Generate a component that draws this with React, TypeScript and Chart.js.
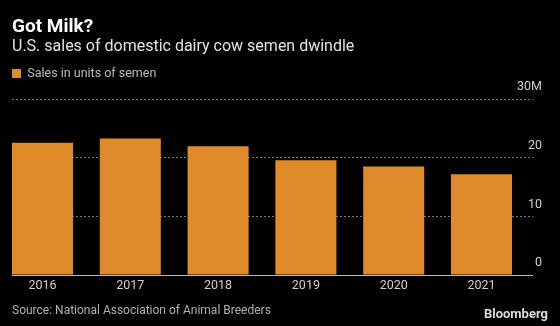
import React, { useEffect, useRef } from "react";
import { Chart, registerables } from "chart.js";

Chart.register(...registerables);

const years = [2016, 2017, 2018, 2019, 2020, 2021];
const sales = [22.6, 23.3, 22.0, 19.6, 18.55, 17.2];
const yTicks = [0, 10, 20, 30];
const seriesLabel = "Sales in units of semen";
const titleText = "Got Milk?";
const subtitleText = "U.S. sales of domestic dairy cow semen dwindle";
const sourceText = "Source: National Association of Animal Breeders";
const brandText = "Bloomberg";

const ORANGE = "#e08b2a";
const FONT = "Roboto, 'Liberation Sans', sans-serif";

export default function App() {
  const ref = useRef<HTMLCanvasElement>(null);

  useEffect(() => {
    const chart = new Chart(ref.current!, {
      type: "bar",
      data: {
        datasets: [
          {
            label: seriesLabel,
            data: years.map((x, i) => ({ x, y: sales[i] })),
            backgroundColor: ORANGE,
            borderWidth: 0,
            categoryPercentage: 1,
            barPercentage: 0.695,
          },
        ],
      },
      options: {
        responsive: false,
        maintainAspectRatio: false,
        animation: false,
        layout: { padding: { top: 18, left: 12, right: 18, bottom: 30 } },
        plugins: {
          title: {
            display: true,
            text: titleText,
            align: "start",
            color: "#ffffff",
            font: { family: FONT, size: 19, weight: "bold", lineHeight: 1 },
            padding: { top: 0, bottom: 0 },
          },
          subtitle: {
            display: true,
            text: subtitleText,
            align: "start",
            color: "#e4e4e4",
            font: { family: FONT, size: 16, lineHeight: 1.2 },
            padding: { top: 0, bottom: 11 },
          },
          legend: {
            display: true,
            position: "top",
            align: "start",
            labels: {
              boxWidth: 9,
              boxHeight: 9,
              padding: 0,
              color: "#bdbdbd",
              font: { family: FONT, size: 12.5 },
            },
          },
          tooltip: { enabled: false },
        },
        scales: {
          x: {
            type: "linear",
            offset: false,
            min: 2015.6526,
            max: 2021.5866,
            afterBuildTicks: (s: any) => {
              s.ticks = years.map((v) => ({ value: v }));
            },
            ticks: {
              callback: (v: any) => String(v),
              color: "#cfcfcf",
              font: { family: FONT, size: 12.5 },
              padding: 3,
              maxRotation: 0,
            },
            grid: { display: false, drawTicks: false, offset: false },
            border: { display: false },
          },
          y: {
            position: "right",
            min: 0,
            max: 31.65,
            afterBuildTicks: (s: any) => {
              s.ticks = yTicks.map((v) => ({ value: v }));
            },
            afterFit: (s: any) => {
              s.width = 9;
            },
            ticks: {
              mirror: true,
              crossAlign: "near",
              labelOffset: -12,
              padding: 9,
              color: "#cfcfcf",
              font: { family: FONT, size: 12.5 },
              callback: (v: any) => (v === 30 ? "30M" : String(v)),
            },
            grid: {
              drawTicks: false,
              lineWidth: 1,
              color: (ctx: any) => (ctx.tick && ctx.tick.value === 0 ? "#bdbdbd" : "#7a7a7a"),
            },
            border: {
              display: false,
              dash: (ctx: any) => (ctx.tick && ctx.tick.value === 0 ? [] : [2, 2]),
            },
          },
        },
      } as any,
    });
    return () => chart.destroy();
  }, []);

  return (
    <div
      style={{
        position: "fixed",
        left: 0,
        top: 0,
        width: 560,
        height: 326,
        background: "#000",
        overflow: "hidden",
      }}
    >
      <canvas ref={ref} width={560} height={326} style={{ display: "block" }} />
      <div
        style={{
          position: "absolute",
          left: 12,
          top: 302,
          fontFamily: FONT,
          fontSize: 12,
          color: "#b0b0b0",
          lineHeight: "16px",
          whiteSpace: "nowrap",
        }}
      >
        {sourceText}
      </div>
      <div
        style={{
          position: "absolute",
          right: 12,
          top: 305,
          fontFamily: FONT,
          fontSize: 13,
          fontWeight: "bold",
          color: "#dddddd",
          lineHeight: "18px",
          whiteSpace: "nowrap",
        }}
      >
        {brandText}
      </div>
    </div>
  );
}
